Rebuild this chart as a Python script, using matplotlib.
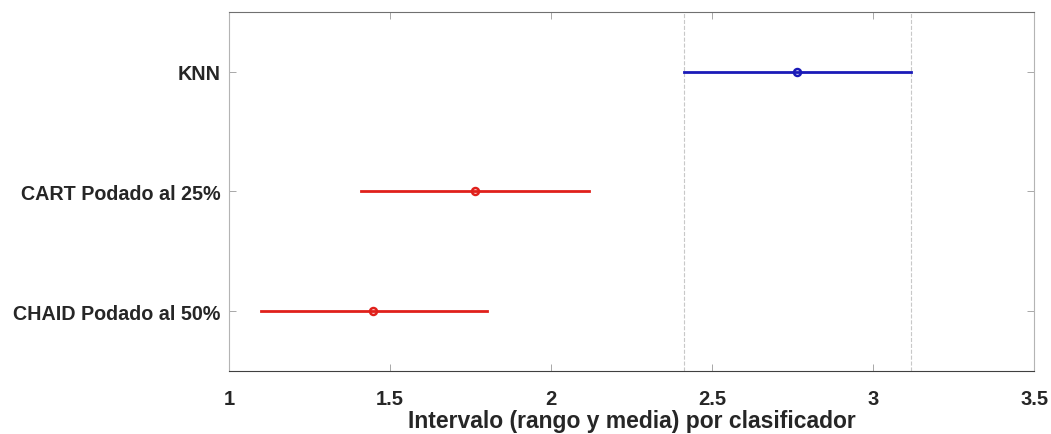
import numpy as np
import matplotlib.pyplot as plt

# clasificadores (de abajo hacia arriba) y sus intervalos
clasif = ['CHAID Podado al 50%', 'CART Podado al 25%', 'KNN']
lo = [1.10, 1.41, 2.412]
media = [1.448, 1.765, 2.763]
hi = [1.80, 2.119, 3.118]
col = ['#e0201b', '#e0201b', '#1a1ab8']

plt.rcParams['font.family'] = ['Liberation Sans', 'DejaVu Sans']
plt.rcParams['font.weight'] = 'bold'

fig = plt.figure(figsize=(10.51, 4.35), dpi=100)
ax = fig.add_axes([0.218, 0.145, 0.766, 0.825])

pos = np.arange(1, len(clasif) + 1)

# lineas de referencia del grupo seleccionado (KNN)
for v in (lo[2], hi[2]):
    ax.axvline(v, color='#c8c8c8', linestyle='--', linewidth=0.8, zorder=1)

for i in range(len(clasif)):
    ax.plot([lo[i], hi[i]], [pos[i], pos[i]], color=col[i], linewidth=2, zorder=2)
    ax.plot(media[i], pos[i], 'o', mfc='none', mec=col[i], mew=1.8, ms=5, zorder=3)

ax.set_xlim(1, 3.5)
ax.set_ylim(0.5, 3.5)
ax.set_xticks([1, 1.5, 2, 2.5, 3, 3.5])
ax.set_xticklabels(['1', '1.5', '2', '2.5', '3', '3.5'])
ax.set_yticks(pos)
ax.set_yticklabels(clasif)
ax.set_xlabel('Intervalo (rango y media) por clasificador', fontsize=16.5,
              fontweight='bold', color='#262626', labelpad=1)

ax.tick_params(axis='both', direction='in', top=True, right=True, length=5, width=0.6,
               color='#9a9a9a', labelcolor='#262626')
ax.tick_params(axis='x', labelsize=14.5, pad=13)
ax.tick_params(axis='y', labelsize=14.2, pad=6)
for s in ax.spines.values():
    s.set_color('#b4b4b4')
    s.set_linewidth(0.8)
ax.spines['bottom'].set_color('#404040')
ax.spines['top'].set_color('#707070')

fig.savefig('out.png', dpi=100)
